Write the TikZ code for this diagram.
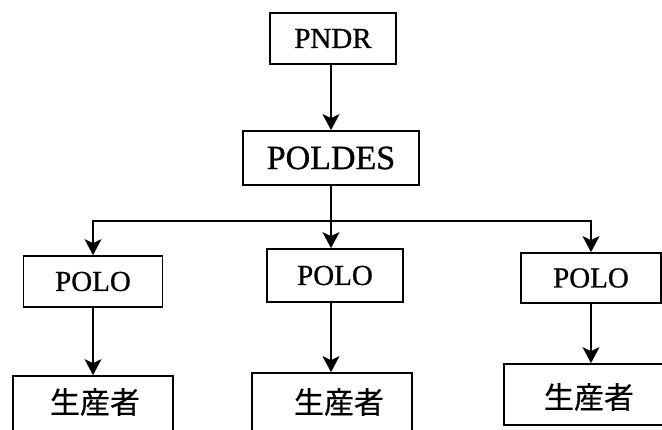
\documentclass[tikz,border=0pt]{standalone}
\usepackage{fontspec}
\setmainfont[FakeBold=0.8]{Liberation Serif}
\newfontfamily\cjk[FakeBold=0.6]{Noto Sans CJK JP}
\usetikzlibrary{arrows.meta}
\begin{document}
\begin{tikzpicture}[x=1pt,y=-1pt,
  box/.style={draw,line width=1.8pt,rectangle,inner sep=0pt},
  lbl/.style={inner sep=0pt,font=\fontsize{29}{30}\selectfont},
  jp/.style={inner sep=0pt,font=\cjk\fontsize{30}{32}\selectfont},
  link/.style={line width=1.8pt},
  arr/.style={line width=1.8pt,-{Stealth[length=16pt,width=17pt,inset=4pt]}}]
\useasboundingbox[fill=white] (0,0) rectangle (662,429);
% top
\node[box,minimum width=126pt,minimum height=51pt,lbl] (pndr) at (333,38.5) {PNDR};
\node[box,minimum width=176pt,minimum height=54pt,lbl,font=\fontsize{34}{36}\selectfont] (poldes) at (331,158) {POLDES};
% POLO boxes
\node[box,minimum width=139pt,minimum height=51pt,lbl] (lpolo) at (93,281.5) {POLO};
\node[box,minimum width=136pt,minimum height=53pt,lbl] (mpolo) at (335,275.5) {POLO};
\node[box,minimum width=140pt,minimum height=50pt,lbl] (rpolo) at (591,278) {POLO};
% producer boxes
\node[box,minimum width=160pt,minimum height=80pt] (lprod) at (93,416) {};
\node[jp] (lprodt) at (95,402) {生産者};
\node[box,minimum width=160pt,minimum height=80pt] (mprod) at (332,413) {};
\node[jp] (mprodt) at (339,402) {生産者};
\node[box,minimum width=162pt,minimum height=61pt] (rprod) at (585,394.5) {};
\node[jp] (rprodt) at (589,397) {生産者};
% connectors
\coordinate (hb) at (331,221);
\draw[arr] (pndr.south -| poldes) -- (poldes.north);
\draw[link] (poldes.south) -- (hb);
\draw[arr] (hb) -| (lpolo.north);
\draw[arr] (hb) -| (rpolo.north);
\draw[arr] (hb) -- (hb |- mpolo.north);
\draw[arr] (lpolo.south) -- (lpolo.south |- lprod.north);
\draw[arr] (mpolo.south -| hb) -- (hb |- mprod.north);
\draw[arr] (rpolo.south) -- (rpolo.south |- rprod.north);
\end{tikzpicture}
\end{document}
